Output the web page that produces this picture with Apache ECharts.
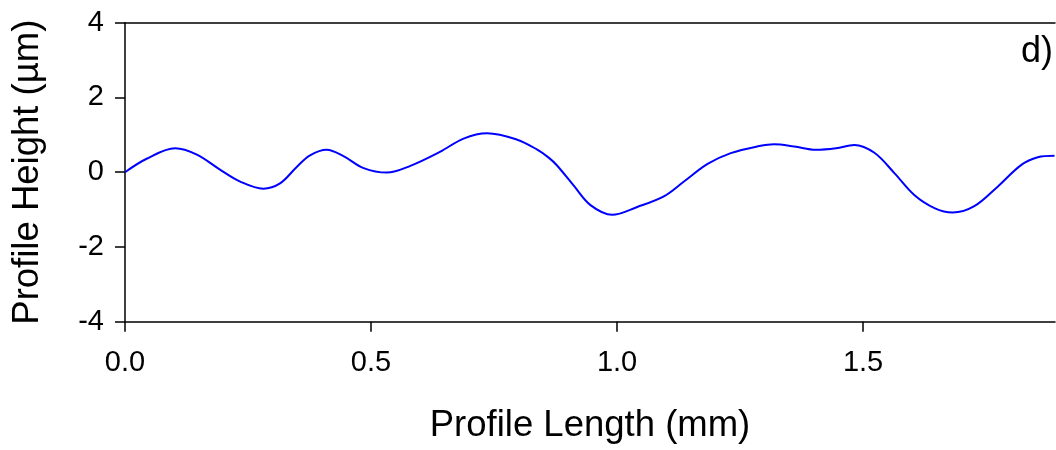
<!DOCTYPE html>
<html>
<head>
<meta charset="utf-8">
<script src="https://cdn.jsdelivr.net/npm/echarts@6/dist/echarts.min.js"></script>
<style>
html,body{margin:0;padding:0;background:#fff;}
#chart{width:1056px;height:450px;}
</style>
</head>
<body>
<div id="chart"></div>
<script>
// Profile length (mm)
const lengthMm = [0.000,0.044,0.102,0.146,0.193,0.234,0.281,0.315,0.349,0.376,0.410,0.444,0.485,0.532,0.580,0.641,0.688,0.736,0.797,0.837,0.861,0.878,0.912,0.946,0.990,1.041,1.096,1.136,1.184,1.231,1.289,1.319,1.360,1.404,1.445,1.482,1.523,1.564,1.604,1.645,1.682,1.726,1.774,1.821,1.855,1.889];
// Profile height (µm)
const heightUm = [0.00,0.36,0.64,0.47,0.07,-0.25,-0.44,-0.30,0.14,0.45,0.60,0.43,0.11,-0.01,0.17,0.55,0.90,1.04,0.87,0.61,0.39,0.18,-0.36,-0.88,-1.14,-0.93,-0.64,-0.25,0.22,0.51,0.70,0.75,0.69,0.60,0.64,0.73,0.52,-0.03,-0.61,-0.96,-1.08,-0.91,-0.38,0.19,0.40,0.44];
const xTicks = [0, 0.5, 1.0, 1.5];
const yTicks = [-4, -2, 0, 2, 4];
const xMax = 1.89;

const data = lengthMm.map((x, i) => [x, heightUm[i]]);
const font = 'Liberation Sans, Arial, sans-serif';

const chart = echarts.init(document.getElementById('chart'), null, {renderer: 'canvas'});
chart.setOption({
  animation: false,
  grid: {left: 125, right: 1, top: 22.7, bottom: 128.3, containLabel: false},
  xAxis: [{
    type: 'value', min: 0, max: xMax, interval: 0.5,
    name: 'Profile Length (mm)', nameLocation: 'middle', nameGap: 86,
    nameTextStyle: {fontFamily: font, fontSize: 36.5, color: '#000'},
    axisLine: {show: true, onZero: false, lineStyle: {color: '#000', width: 1.5}},
    axisTick: {show: true, inside: false, length: 10, customValues: xTicks, lineStyle: {color: '#000', width: 1.5}},
    axisLabel: {show: true, margin: 27, customValues: xTicks, fontFamily: font, fontSize: 29, color: '#000',
      formatter: v => v.toFixed(1)},
    splitLine: {show: false}
  }, {
    type: 'value', position: 'top', min: 0, max: xMax,
    axisLine: {show: true, onZero: false, lineStyle: {color: '#000', width: 1.5}},
    axisTick: {show: false}, axisLabel: {show: false}, splitLine: {show: false}
  }],
  yAxis: {
    type: 'value', min: -4, max: 4, interval: 2,
    name: 'Profile Height (µm)', nameLocation: 'middle', nameGap: 79, nameRotate: 90,
    nameTextStyle: {fontFamily: font, fontSize: 36.5, color: '#000'},
    axisLine: {show: true, onZero: false, lineStyle: {color: '#000', width: 1.5}},
    axisTick: {show: true, inside: false, length: 10, customValues: yTicks, lineStyle: {color: '#000', width: 1.5}},
    axisLabel: {show: true, margin: 21, customValues: yTicks, fontFamily: font, fontSize: 29, color: '#000'},
    splitLine: {show: false}
  },
  graphic: [{
    type: 'text', right: 3, top: 34,
    style: {text: 'd)', fontFamily: font, fontSize: 36, fill: '#000'}
  }],
  series: [{
    type: 'line', xAxisIndex: 0, data: data, smooth: 0.35, showSymbol: false,
    lineStyle: {color: '#0000ff', width: 2}, clip: true
  }]
});
</script>
</body>
</html>
